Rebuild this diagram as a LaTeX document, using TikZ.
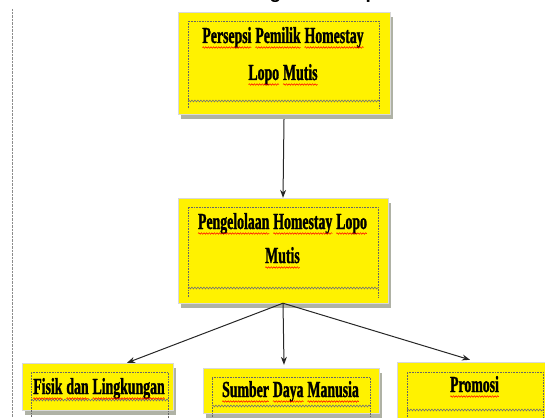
\documentclass[tikz,border=0pt]{standalone}
\usepackage{fontspec}
\usepackage{tikz}
\usetikzlibrary{arrows.meta}
\usetikzlibrary{shadows, decorations.pathmorphing}

\newfontfamily\boxfont[FakeStretch=0.6, BoldFeatures={FakeBold=1.2}]{Liberation Serif}
\newfontfamily\titlefont{Liberation Sans}
\definecolor{shadowgray}{RGB}{175,178,165}

% red spell-check wave under a word
\newcommand\sq[1]{\tikz[x=1pt, y=1pt, baseline=(w.base)]{%
    \node[inner sep=0pt, outer sep=0pt, anchor=base] (w) {#1};
    \draw[red, line width=0.5pt, decorate, decoration={snake, amplitude=0.8pt, segment length=2.6pt}]
        ([yshift=-4.5pt]w.base west) -- ([yshift=-4.5pt]w.base east);}}

\begin{document}
\begin{tikzpicture}[x=1pt, y=-1pt,
    ybox/.style={draw=black!15, fill=yellow, inner sep=0pt,
        drop shadow={shadow xshift=3pt, shadow yshift=-5pt, fill=shadowgray, opacity=1}},
    lbl/.style={anchor=base, inner sep=0pt, font=\boxfont\bfseries\fontsize{23}{34}\selectfont},
    inframe/.style={black!60, densely dotted, line width=0.6pt},
    wave/.style={black!55, line width=0.6pt, decorate,
        decoration={snake, amplitude=0.9pt, segment length=3pt}},
    arr/.style={black!85, line width=1pt, -{Stealth[length=8pt, width=6pt]}}]
    \useasboundingbox (0,0) rectangle (545,417);
    \clip (0,0) rectangle (545,417);

    % Title (cut off at the top)
    \node[anchor=base west, inner sep=0pt, font=\titlefont\bfseries\fontsize{19}{21}\selectfont] (title) at (215.5,-1.5) {Kerangka Konseptual};

    % Left margin
    \draw[black!45, densely dotted] (12,9) -- (12,417);

    % Boxes
    \node[ybox, minimum width=212pt, minimum height=102pt] (persepsi) at (284,63) {};
    \node[ybox, minimum width=210pt, minimum height=105pt] (pengelolaan) at (283,250.5) {};
    \node[ybox, minimum width=151pt, minimum height=47pt] (fisik) at (97.5,386.5) {};
    \node[ybox, minimum width=176pt, minimum height=45pt] (sdm) at (291,390.5) {};
    \node[ybox, minimum width=156pt, minimum height=68pt] (promosi) at (475,396) {};

    % Text frames inside the boxes
    \foreach \xa/\ya/\xb/\yb/\yw in {188/21/379/108/101, 188/207/378/297/288,
        31/372/168/420/400, 212/377/370/420/406, 407/372/543/420/410} {
        \draw[inframe] (\xa,\yb) -- (\xa,\ya) -- (\xb,\ya) -- (\xb,\yb);
        \draw[wave] (\xa,\yw) -- (\xb,\yw);
    }

    % Labels
    \node[lbl] (p1) at (283,43) {\sq{Persepsi} \sq{Pemilik} \sq{Homestay}};
    \node[lbl] (p2) at (283,80) {\sq{Lopo} \sq{Mutis}};
    \node[lbl] (m1) at (282.5,229) {\sq{Pengelolaan} \sq{Homestay} \sq{Lopo}};
    \node[lbl] (m2) at (282.5,263) {\sq{Mutis}};
    \node[lbl] (b1) at (99,394) {\sq{Fisik} \sq{dan} \sq{Lingkungan}};
    \node[lbl] (b2) at (290.5,397) {\sq{Sumber} \sq{Daya} \sq{Manusia}};
    \node[lbl] (b3) at (474.5,392) {\sq{Promosi}};

    % Arrows
    \draw[arr] ([yshift=-5pt]persepsi.south) -- (pengelolaan.north);
    \draw[arr] (pengelolaan.south) -- ([xshift=29.5pt]fisik.north);
    \draw[arr] (pengelolaan.south) -- ([xshift=-7pt, yshift=3pt]sdm.north);
    \draw[arr] (pengelolaan.south) -- ([xshift=-5pt, yshift=2pt]promosi.north);
\end{tikzpicture}
\end{document}
